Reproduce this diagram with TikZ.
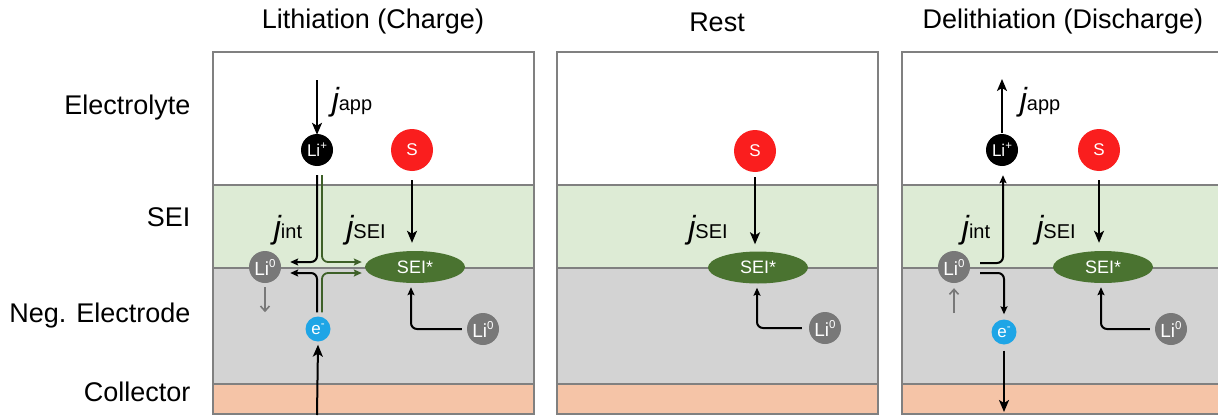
\documentclass[tikz,border=0pt]{standalone}
\usepackage{fontspec}
\setmainfont{Liberation Sans}
\usetikzlibrary{arrows.meta,shapes.geometric}
\definecolor{seig}{RGB}{221,235,213}
\definecolor{negg}{RGB}{211,211,211}
\definecolor{coll}{RGB}{245,196,167}
\definecolor{bord}{RGB}{128,128,128}
\definecolor{ellg}{RGB}{74,115,48}
\definecolor{lineg}{RGB}{62,96,40}
\definecolor{sred}{RGB}{250,30,30}
\definecolor{eblue}{RGB}{30,165,230}
\definecolor{ligray}{RGB}{120,120,120}
\newcommand\supx[1]{\raisebox{0.42em}{\fontsize{11.5}{11.5}\selectfont #1}}
\newcommand\jlab[1]{{\fontsize{32}{32}\selectfont\itshape j}{\fontsize{20}{20}\selectfont #1}}
\tikzset{
  ball/.style={circle, inner sep=0pt, text=white, font=\fontsize{17}{17}\selectfont},
  lip/.style={ball, fill=black, minimum size=32pt},
  sball/.style={ball, fill=sred, minimum size=42pt},
  lizero/.style={ball, fill=ligray, minimum size=32pt, font=\fontsize{19}{19}\selectfont},
  eball/.style={ball, fill=eblue, minimum size=25pt},
  seistar/.style={ellipse, fill=ellg, text=white, minimum width=100pt, minimum height=32pt, inner sep=0pt, font=\fontsize{18}{18}\selectfont},
  arr/.style={line width=2pt, -{Stealth[length=12pt,width=10pt,inset=3pt]}},
  arrs/.style={line width=2pt, -{Stealth[length=8pt,width=7pt,inset=1.5pt]}},
  garr/.style={line width=1.8pt, draw=lineg, -{Stealth[length=8pt,width=7pt,inset=1.5pt]}},
  grayarr/.style={line width=1.6pt, draw=ligray, -{Straight Barb[length=5pt,width=9pt]}},
  bigtext/.style={font=\fontsize{27}{30}\selectfont},
  jl/.style={inner sep=0pt}
}
\begin{document}
\begin{tikzpicture}[x=1pt,y=-1pt]
\useasboundingbox (0,0) rectangle (1218,415);
\fill[white] (0,0) rectangle (1218,415);
\begin{scope}
\clip (0,0) rectangle (1218,415);
\foreach \l/\r in {213/534, 557/878, 902/1223} {
  \fill[seig] (\l,185) rectangle (\r,268);
  \fill[negg] (\l,268) rectangle (\r,384);
  \fill[coll] (\l,384) rectangle (\r,414);
  \draw[bord, line width=2pt] (\l,185) -- (\r,185) (\l,268) -- (\r,268) (\l,384) -- (\r,384);
  \draw[bord, line width=2pt] (\l,52) rectangle (\r,414);
}
\end{scope}
% titles and layer labels
\node[bigtext] (t1) at (373,22) {Lithiation (Charge)};
\node[bigtext] (t2) at (717,22) {Rest};
\node[bigtext] (t3) at (1063,22) {Delithiation (Discharge)};
\node[bigtext, anchor=east] (l1) at (194,108) {Electrolyte};
\node[bigtext, anchor=east] (l2) at (194,217) {SEI};
\node[bigtext, anchor=east] (l3) at (194,316) {Neg. Electrode};
\node[bigtext, anchor=east] (l4) at (194,392) {Collector};

% ---------- Panel 1 ----------
\coordinate (appA) at (317,80);
\coordinate (botA) at (317,415);
\node[lip] (lipA) at (317,150) {Li\supx{+}};
\node[sball] (sA) at (412,150) {S};
\node[lizero] (l0A) at (265,267) {Li\supx{0}};
\node[eball] (eA) at (318,329) {e\supx{-}};
\node[seistar] (seiA) at (415,267) {SEI*};
\node[lizero] (l0bA) at (483,329) {Li\supx{0}};
\draw[arr] (appA) -- ([yshift=-1pt]lipA.north);
\node[jl] (jappA) at (352,102) {\jlab{app}};
\draw[arrs, rounded corners=6pt] ([yshift=-9pt]lipA.south) |- ([xshift=9pt,yshift=5pt]l0A.east);
\draw[garr, rounded corners=6pt] ([xshift=5pt,yshift=-9pt]lipA.south) |- ([xshift=-3pt,yshift=5pt]seiA.west);
\draw[arrs, rounded corners=6pt] ([xshift=-1pt,yshift=4pt]eA.north) |- ([xshift=9pt,yshift=-6pt]l0A.east);
\draw[garr, rounded corners=6pt] ([xshift=4pt,yshift=4pt]eA.north) |- ([xshift=-3pt,yshift=-6pt]seiA.west);
\draw[arr] (botA) -- ([yshift=-3pt]eA.south);
\draw[arr] ([yshift=-9pt]sA.south) -- ([xshift=-3pt,yshift=8pt]seiA.north);
\draw[arrs, rounded corners=6pt] ([xshift=-5pt]l0bA.west) -| ([xshift=-4pt,yshift=-4pt]seiA.south);
\draw[grayarr] ([yshift=-4pt]l0A.south) -- ++(0,25);
\node[jl] (jintA) at (288,230) {\jlab{int}};
\node[jl] (jseiA) at (366,230) {\jlab{SEI}};

% ---------- Panel 2 ----------
\node[sball] (sB) at (755,151) {S};
\node[seistar] (seiB) at (758,267.5) {SEI*};
\node[lizero] (l0bB) at (825,328) {Li\supx{0}};
\draw[arr] ([yshift=-5pt]sB.south) -- ([xshift=-3pt,yshift=7pt]seiB.north);
\draw[arrs, rounded corners=6pt] ([xshift=-7pt]l0bB.west) -| ([xshift=-1pt,yshift=-4pt]seiB.south);
\node[jl] (jseiB) at (708,230) {\jlab{SEI}};

% ---------- Panel 3 ----------
\coordinate (appC) at (1002,79);
\coordinate (botC) at (1004,412);
\node[lip] (lipC) at (1002,150) {Li\supx{+}};
\node[sball] (sC) at (1099,150) {S};
\node[lizero] (l0C) at (954,267) {Li\supx{0}};
\node[eball] (eC) at (1004,332) {e\supx{-}};
\node[seistar] (seiC) at (1103,267) {SEI*};
\node[lizero] (l0bC) at (1171,329) {Li\supx{0}};
\draw[arr] ([yshift=1pt]lipC.north) -- (appC);
\node[jl] (jappC) at (1040,102) {\jlab{app}};
\draw[arrs, rounded corners=6pt] ([xshift=10pt,yshift=4pt]l0C.east) -| ([xshift=1pt,yshift=-9pt]lipC.south);
\draw[arrs, rounded corners=6pt] ([xshift=10pt,yshift=-6pt]l0C.east) -| ([yshift=5pt]eC.north);
\draw[arr] ([yshift=-6pt]eC.south) -- (botC);
\draw[arr] ([yshift=-9pt]sC.south) -- ([xshift=-4pt,yshift=8pt]seiC.north);
\draw[arrs, rounded corners=6pt] ([xshift=-5pt]l0bC.west) -| ([xshift=-2pt,yshift=-4pt]seiC.south);
\draw[grayarr] ([yshift=-30pt]l0C.south) -- ([yshift=-5pt]l0C.south);
\node[jl] (jintC) at (976,230) {\jlab{int}};
\node[jl] (jseiC) at (1056,230) {\jlab{SEI}};
\end{tikzpicture}
\end{document}
